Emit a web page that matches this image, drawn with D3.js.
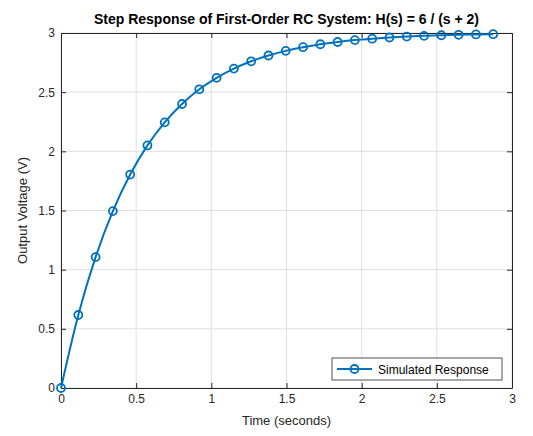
<!DOCTYPE html>
<html><head><meta charset="utf-8">
<script src="https://cdn.jsdelivr.net/npm/d3@7"></script>
<style>body{margin:0;background:#fff;font-family:"Liberation Sans",Arial,sans-serif}</style>
</head><body><svg id="chart" width="533" height="436"></svg>
<script>
// sample times (s) and output voltage (V)
var times = [0,0.115,0.23,0.345,0.46,0.575,0.69,0.805,0.92,1.035,1.15,1.265,1.38,1.495,1.61,1.725,1.84,1.955,2.07,2.185,2.3,2.415,2.53,2.645,2.76,2.875]
var volts = [0,0.617,1.106,1.495,1.804,2.05,2.245,2.4,2.524,2.621,2.699,2.761,2.81,2.849,2.88,2.905,2.924,2.94,2.952,2.962,2.97,2.976,2.981,2.985,2.988,2.99]
var xTicks = [0,0.5,1,1.5,2,2.5,3]
var yTicks = [0,0.5,1,1.5,2,2.5,3]

var svg = d3.select("#chart")
var L = 61, R = 512, T = 33, B = 388
var x = d3.scaleLinear().domain([0, 3]).range([L, R])
var y = d3.scaleLinear().domain([0, 3]).range([B, T])
var blue = "#0072BD"

var grid = svg.append("g").attr("stroke", "#dfdfdf").attr("stroke-width", 1)
xTicks.forEach(function (t) { grid.append("line").attr("x1", x(t)).attr("x2", x(t)).attr("y1", T).attr("y2", B) })
yTicks.forEach(function (t) { grid.append("line").attr("y1", y(t)).attr("y2", y(t)).attr("x1", L).attr("x2", R) })

function fmt(d) { return d3.format("")(d) }
svg.append("g").attr("transform", "translate(0," + B + ")")
  .call(d3.axisBottom(x).tickValues(xTicks).tickFormat(fmt).tickSizeInner(-5).tickSizeOuter(0).tickPadding(6))
svg.append("g").attr("transform", "translate(0," + T + ")")
  .call(d3.axisTop(x).tickValues(xTicks).tickFormat("").tickSizeInner(-5).tickSizeOuter(0))
svg.append("g").attr("transform", "translate(" + L + ",0)")
  .call(d3.axisLeft(y).tickValues(yTicks).tickFormat(fmt).tickSizeInner(-5).tickSizeOuter(0).tickPadding(6))
svg.append("g").attr("transform", "translate(" + R + ",0)")
  .call(d3.axisRight(y).tickValues(yTicks).tickFormat("").tickSizeInner(-5).tickSizeOuter(0))
svg.selectAll(".domain").attr("stroke", "#262626")
svg.selectAll(".tick line").attr("stroke", "#262626")
svg.selectAll(".tick text").attr("fill", "#262626").attr("font-size", 12).attr("font-family", "Liberation Sans, Arial")

var pts = times.map(function (t, i) { return [t, volts[i]] })
svg.append("path").datum(pts).attr("fill", "none").attr("stroke", blue).attr("stroke-width", 2)
  .attr("d", d3.line().x(function (d) { return x(d[0]) }).y(function (d) { return y(d[1]) }).curve(d3.curveMonotoneX))
svg.selectAll("circle.m").data(pts).enter().append("circle")
  .attr("cx", function (d) { return x(d[0]) }).attr("cy", function (d) { return y(d[1]) })
  .attr("r", 4).attr("fill", "none").attr("stroke", blue).attr("stroke-width", 1.8)

svg.append("text").attr("x", (L + R) / 2).attr("y", 24).attr("text-anchor", "middle")
  .attr("font-weight", "bold").attr("font-size", 14).attr("fill", "#000")
  .text("Step Response of First-Order RC System: H(s) = 6 / (s + 2)")
svg.append("text").attr("x", (L + R) / 2).attr("y", 425).attr("text-anchor", "middle")
  .attr("font-size", 13).attr("fill", "#262626").text("Time (seconds)")
svg.append("text").attr("transform", "translate(27," + (T + B) / 2 + ") rotate(-90)").attr("text-anchor", "middle")
  .attr("font-size", 13).attr("fill", "#262626").text("Output Voltage (V)")

var lg = svg.append("g").attr("transform", "translate(332,358)")
lg.append("rect").attr("width", 170).attr("height", 22).attr("fill", "#fff").attr("stroke", "#262626").attr("stroke-width", 0.8)
lg.append("line").attr("x1", 5).attr("x2", 40).attr("y1", 11).attr("y2", 11).attr("stroke", blue).attr("stroke-width", 2)
lg.append("circle").attr("cx", 22.5).attr("cy", 11).attr("r", 4).attr("fill", "none").attr("stroke", blue).attr("stroke-width", 1.8)
lg.append("text").attr("x", 46).attr("y", 15.5).attr("font-size", 12).attr("fill", "#000").text("Simulated Response")
</script></body></html>
